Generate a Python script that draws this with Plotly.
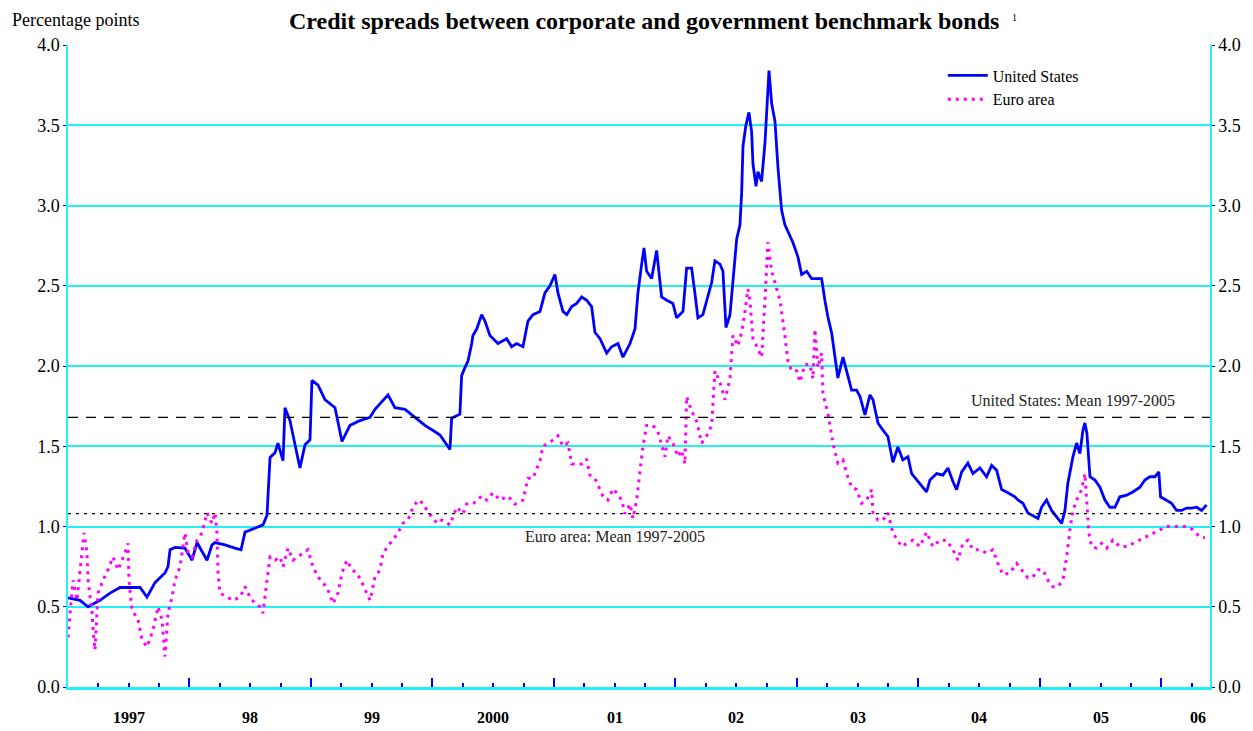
import plotly.graph_objects as go

# Spreads, percentage points; time as decimal years
us_t = [1997.000, 1997.099, 1997.165, 1997.263, 1997.346, 1997.428, 1997.510, 1997.593, 1997.650, 1997.716,
        1997.757, 1997.798, 1997.823, 1997.840, 1997.881, 1997.963, 1998.021, 1998.062, 1998.144, 1998.185,
        1998.210, 1998.292, 1998.374, 1998.424, 1998.457, 1998.539, 1998.605, 1998.638, 1998.663, 1998.704,
        1998.728, 1998.770, 1998.786, 1998.827, 1998.909, 1998.951, 1998.992, 1999.008, 1999.058, 1999.115,
        1999.198, 1999.255, 1999.321, 1999.403, 1999.486, 1999.527, 1999.634, 1999.691, 1999.774, 1999.856,
        1999.938, 2000.021, 2000.062, 2000.144, 2000.158, 2000.226, 2000.240, 2000.267, 2000.292, 2000.323,
        2000.333, 2000.364, 2000.405, 2000.432, 2000.473, 2000.539, 2000.611, 2000.652, 2000.693, 2000.745,
        2000.786, 2000.827, 2000.885, 2000.926, 2000.967, 2001.008, 2001.033, 2001.074, 2001.105, 2001.146,
        2001.187, 2001.228, 2001.269, 2001.310, 2001.337, 2001.379, 2001.434, 2001.475, 2001.527, 2001.568,
        2001.626, 2001.667, 2001.691, 2001.722, 2001.741, 2001.763, 2001.804, 2001.845, 2001.856, 2001.886,
        2001.928, 2001.979, 2002.010, 2002.062, 2002.092, 2002.133, 2002.160, 2002.185, 2002.226, 2002.267,
        2002.298, 2002.325, 2002.366, 2002.391, 2002.416, 2002.449, 2002.473, 2002.504, 2002.531, 2002.545,
        2002.556, 2002.580, 2002.605, 2002.627, 2002.638, 2002.663, 2002.679, 2002.709, 2002.737, 2002.753,
        2002.770, 2002.792, 2002.819, 2002.844, 2002.874, 2002.901, 2002.926, 2002.967, 2003.008, 2003.039,
        2003.080, 2003.121, 2003.162, 2003.203, 2003.230, 2003.255, 2003.286, 2003.313, 2003.337, 2003.379,
        2003.409, 2003.450, 2003.491, 2003.519, 2003.560, 2003.601, 2003.626, 2003.667, 2003.708, 2003.749,
        2003.790, 2003.831, 2003.872, 2003.914, 2003.944, 2003.996, 2004.067, 2004.095, 2004.150, 2004.202,
        2004.243, 2004.284, 2004.314, 2004.356, 2004.407, 2004.449, 2004.506, 2004.561, 2004.603, 2004.644,
        2004.685, 2004.737, 2004.794, 2004.819, 2004.860, 2004.901, 2004.959, 2004.984, 2005.014, 2005.055,
        2005.096, 2005.137, 2005.179, 2005.206, 2005.230, 2005.272, 2005.302, 2005.329, 2005.354, 2005.370,
        2005.387, 2005.412, 2005.453, 2005.494, 2005.535, 2005.576, 2005.617, 2005.658, 2005.714, 2005.765,
        2005.823, 2005.864, 2005.905, 2005.947, 2005.979, 2005.993, 2006.043, 2006.084, 2006.125, 2006.166,
        2006.207, 2006.249, 2006.290, 2006.331, 2006.372]
us_v = [0.555, 0.54, 0.50, 0.54, 0.585, 0.62, 0.62, 0.62, 0.56, 0.65,
        0.68, 0.71, 0.75, 0.855, 0.87, 0.865, 0.79, 0.90, 0.79, 0.885,
        0.90, 0.885, 0.865, 0.855, 0.965, 0.99, 1.01, 1.07, 1.43, 1.46,
        1.52, 1.41, 1.74, 1.66, 1.365, 1.51, 1.54, 1.91, 1.88, 1.79,
        1.74, 1.53, 1.63, 1.66, 1.68, 1.73, 1.82, 1.74, 1.73, 1.68,
        1.63, 1.59, 1.57, 1.48, 1.675, 1.70, 1.94, 1.99, 2.03, 2.14,
        2.19, 2.23, 2.32, 2.28, 2.19, 2.14, 2.17, 2.12, 2.14, 2.12,
        2.28, 2.32, 2.34, 2.455, 2.50, 2.57, 2.455, 2.34, 2.32, 2.37,
        2.39, 2.43, 2.41, 2.37, 2.21, 2.17, 2.08, 2.12, 2.14, 2.055,
        2.14, 2.23, 2.455, 2.635, 2.735, 2.59, 2.545, 2.72, 2.635, 2.43,
        2.41, 2.39, 2.30, 2.34, 2.61, 2.61, 2.455, 2.30, 2.32, 2.43,
        2.52, 2.655, 2.635, 2.59, 2.24, 2.32, 2.52, 2.79, 2.88, 3.08,
        3.37, 3.50, 3.58, 3.46, 3.26, 3.12, 3.21, 3.15, 3.39, 3.635,
        3.84, 3.635, 3.525, 3.235, 2.97, 2.88, 2.835, 2.77, 2.68, 2.57,
        2.59, 2.545, 2.545, 2.545, 2.41, 2.305, 2.205, 2.04, 1.925, 2.055,
        1.975, 1.85, 1.85, 1.81, 1.695, 1.82, 1.79, 1.645, 1.60, 1.56,
        1.40, 1.495, 1.415, 1.435, 1.33, 1.28, 1.215, 1.29, 1.33, 1.32,
        1.365, 1.28, 1.23, 1.34, 1.395, 1.33, 1.365, 1.31, 1.38, 1.35,
        1.23, 1.21, 1.185, 1.165, 1.145, 1.085, 1.06, 1.05, 1.12, 1.165,
        1.10, 1.06, 1.02, 1.10, 1.27, 1.435, 1.52, 1.455, 1.60, 1.645,
        1.58, 1.31, 1.29, 1.245, 1.165, 1.12, 1.12, 1.185, 1.195, 1.215,
        1.245, 1.29, 1.31, 1.31, 1.34, 1.185, 1.165, 1.145, 1.10, 1.10,
        1.115, 1.115, 1.12, 1.10, 1.135]

ea_t = [1997.000, 1997.016, 1997.041, 1997.074, 1997.115, 1997.132, 1997.156, 1997.165, 1997.198, 1997.206,
        1997.222, 1997.247, 1997.288, 1997.329, 1997.370, 1997.412, 1997.469, 1997.494, 1997.502, 1997.527,
        1997.576, 1997.609, 1997.650, 1997.700, 1997.741, 1997.774, 1997.798, 1997.823, 1997.856, 1997.881,
        1997.922, 1997.963, 1997.988, 1998.021, 1998.062, 1998.103, 1998.144, 1998.185, 1998.210, 1998.226,
        1998.235, 1998.251, 1998.309, 1998.358, 1998.416, 1998.457, 1998.498, 1998.539, 1998.580, 1998.605,
        1998.638, 1998.663, 1998.704, 1998.745, 1998.770, 1998.811, 1998.852, 1998.893, 1998.934, 1998.975,
        1999.016, 1999.058, 1999.099, 1999.140, 1999.181, 1999.222, 1999.255, 1999.296, 1999.337, 1999.379,
        1999.420, 1999.461, 1999.486, 1999.527, 1999.568, 1999.593, 1999.634, 1999.675, 1999.716, 1999.757,
        1999.798, 1999.840, 1999.881, 1999.922, 1999.955, 1999.996, 2000.037, 2000.078, 2000.119, 2000.144,
        2000.199, 2000.251, 2000.281, 2000.333, 2000.405, 2000.446, 2000.498, 2000.556, 2000.621, 2000.679,
        2000.745, 2000.786, 2000.827, 2000.885, 2000.909, 2000.951, 2001.008, 2001.033, 2001.074, 2001.115,
        2001.146, 2001.187, 2001.228, 2001.269, 2001.296, 2001.337, 2001.362, 2001.403, 2001.444, 2001.486,
        2001.516, 2001.557, 2001.584, 2001.626, 2001.650, 2001.681, 2001.708, 2001.733, 2001.763, 2001.815,
        2001.856, 2001.886, 2001.914, 2001.938, 2001.979, 2002.021, 2002.051, 2002.078, 2002.092, 2002.133,
        2002.174, 2002.216, 2002.257, 2002.298, 2002.325, 2002.366, 2002.407, 2002.449, 2002.473, 2002.514,
        2002.545, 2002.572, 2002.597, 2002.613, 2002.638, 2002.668, 2002.709, 2002.737, 2002.761, 2002.792,
        2002.833, 2002.860, 2002.901, 2002.926, 2002.956, 2002.998, 2003.025, 2003.066, 2003.107, 2003.132,
        2003.148, 2003.173, 2003.203, 2003.214, 2003.255, 2003.296, 2003.337, 2003.379, 2003.409, 2003.450,
        2003.491, 2003.532, 2003.574, 2003.615, 2003.626, 2003.667, 2003.708, 2003.749, 2003.790, 2003.862,
        2003.903, 2003.955, 2004.012, 2004.067, 2004.119, 2004.177, 2004.232, 2004.284, 2004.325, 2004.366,
        2004.407, 2004.449, 2004.506, 2004.561, 2004.613, 2004.654, 2004.695, 2004.753, 2004.808, 2004.849,
        2004.901, 2004.942, 2004.984, 2005.025, 2005.066, 2005.107, 2005.148, 2005.189, 2005.220, 2005.247,
        2005.272, 2005.302, 2005.343, 2005.370, 2005.384, 2005.403, 2005.425, 2005.467, 2005.508, 2005.549,
        2005.601, 2005.658, 2005.714, 2005.765, 2005.823, 2005.878, 2005.930, 2005.988, 2006.043, 2006.095,
        2006.152, 2006.207, 2006.259, 2006.317, 2006.358]
ea_v = [0.31, 0.46, 0.665, 0.54, 0.835, 0.96, 0.835, 0.665, 0.46, 0.355,
        0.23, 0.585, 0.665, 0.73, 0.81, 0.73, 0.835, 0.895, 0.665, 0.48,
        0.42, 0.295, 0.25, 0.355, 0.50, 0.42, 0.19, 0.46, 0.56, 0.665,
        0.75, 0.96, 0.835, 0.81, 0.915, 0.96, 1.085, 1.02, 1.085, 0.96,
        0.71, 0.585, 0.56, 0.54, 0.56, 0.625, 0.56, 0.52, 0.50, 0.46,
        0.665, 0.81, 0.79, 0.81, 0.75, 0.865, 0.79, 0.81, 0.835, 0.855,
        0.75, 0.685, 0.65, 0.605, 0.52, 0.585, 0.71, 0.79, 0.73, 0.71,
        0.65, 0.585, 0.54, 0.685, 0.73, 0.835, 0.875, 0.915, 0.96, 1.02,
        1.04, 1.12, 1.165, 1.145, 1.10, 1.06, 1.02, 1.04, 1.02, 1.01,
        1.12, 1.08, 1.14, 1.14, 1.19, 1.165, 1.21, 1.165, 1.19, 1.14,
        1.165, 1.30, 1.30, 1.41, 1.50, 1.52, 1.545, 1.565, 1.50, 1.52,
        1.39, 1.39, 1.39, 1.42, 1.32, 1.30, 1.255, 1.19, 1.165, 1.235,
        1.21, 1.165, 1.08, 1.14, 1.05, 1.165, 1.345, 1.50, 1.63, 1.63,
        1.59, 1.50, 1.435, 1.565, 1.52, 1.435, 1.475, 1.39, 1.81, 1.72,
        1.655, 1.52, 1.565, 1.63, 1.97, 1.90, 1.79, 1.92, 2.19, 2.125,
        2.21, 2.34, 2.48, 2.41, 2.17, 2.125, 2.055, 2.41, 2.77, 2.59,
        2.48, 2.41, 2.19, 2.03, 1.97, 1.97, 1.90, 2.01, 2.01, 1.92,
        2.23, 1.99, 2.08, 1.83, 1.705, 1.52, 1.395, 1.415, 1.33, 1.245,
        1.23, 1.145, 1.165, 1.23, 1.085, 1.04, 1.04, 1.085, 0.96, 0.875,
        0.895, 0.915, 0.875, 0.965, 0.875, 0.915, 0.915, 0.855, 0.79, 0.895,
        0.915, 0.855, 0.855, 0.835, 0.855, 0.77, 0.70, 0.71, 0.77, 0.73,
        0.68, 0.685, 0.73, 0.73, 0.665, 0.625, 0.625, 0.665, 0.81, 0.98,
        1.10, 1.165, 1.23, 1.33, 1.165, 0.96, 0.875, 0.865, 0.895, 0.865,
        0.915, 0.875, 0.875, 0.895, 0.915, 0.935, 0.96, 0.98, 1.00, 1.00,
        1.00, 1.00, 0.98, 0.935, 0.93]

us_mean = 1.68
ea_mean = 1.08

years = list(range(1997, 2007))
year_labels = ["1997", "98", "99", "2000", "01", "02", "03", "04", "05", "06"]
label_pos = [1997.5, 1998.5, 1999.5, 2000.5, 2001.5, 2002.5, 2003.5, 2004.5, 2005.5, 2006.3]

x_end = 2006.40
cyan = "#22F2F8"
serif = "Liberation Serif, Times New Roman, serif"

fig = go.Figure()
fig.add_trace(go.Scatter(x=us_t, y=us_v, mode="lines", name="United States",
                         line=dict(color="#0000FF", width=2.8)))
fig.add_trace(go.Scatter(x=ea_t, y=ea_v, mode="lines", name="Euro area",
                         line=dict(color="#FF00FF", width=3, dash="3px,5px")))
# invisible trace so the right axis is drawn
fig.add_trace(go.Scatter(x=[us_t[0]], y=[us_v[0]], yaxis="y2", showlegend=False,
                         mode="lines", line=dict(width=0), hoverinfo="skip"))

# mean lines
fig.add_shape(type="line", xref="paper", x0=0, x1=1, y0=us_mean, y1=us_mean,
              line=dict(color="black", width=1.3, dash="10px,8px"))
fig.add_shape(type="line", xref="paper", x0=0, x1=1, y0=ea_mean, y1=ea_mean,
              line=dict(color="black", width=1.3, dash="3px,5px"))

fig.add_annotation(x=2005.27, y=us_mean, yshift=17, text="United States: Mean 1997-2005",
                   showarrow=False, font=dict(family=serif, size=16, color="#222"))
fig.add_annotation(x=2001.50, y=ea_mean, yshift=-23, text="Euro area: Mean 1997-2005",
                   showarrow=False, font=dict(family=serif, size=16, color="#222"))

for pos, lab in zip(label_pos, year_labels):
    fig.add_annotation(x=pos, y=-0.048, yref="paper", text="<b>" + lab + "</b>",
                       showarrow=False, yanchor="middle",
                       font=dict(family=serif, size=16, color="black"))

fig.add_annotation(x=-0.0508, y=1.039, xref="paper", yref="paper", xanchor="left", yanchor="middle",
                   text="Percentage points", showarrow=False,
                   font=dict(family=serif, size=18, color="black"))

# footnote marker next to the title
fig.add_annotation(x=0.825, y=1.043, xref="paper", yref="paper", xanchor="left", yanchor="middle",
                   text="1", showarrow=False, font=dict(family=serif, size=10, color="black"))

fig.update_layout(
    width=1245, height=723,
    margin=dict(l=60, r=43, t=37, b=44),
    paper_bgcolor="white", plot_bgcolor="white",
    title=dict(text="<b>Credit spreads between corporate and government benchmark bonds</b>",
               x=0.511, xanchor="center", y=0.983, yanchor="middle",
               font=dict(family=serif, size=24, color="black")),
    font=dict(family=serif, size=16, color="black"),
    showlegend=True,
    legend=dict(x=0.766, y=0.979, xanchor="left", yanchor="top",
                bgcolor="rgba(0,0,0,0)", font=dict(family=serif, size=16),
                itemwidth=40, tracegroupgap=2),
    xaxis=dict(range=[1997, x_end], tickvals=years, showticklabels=False,
               ticks="inside", ticklen=9, tickwidth=1.5, tickcolor="#0000FF",
               minor=dict(ticks="inside", ticklen=4, dtick=0.25, tick0=1997,
                          tickcolor="#0000FF", tickwidth=1.5, showgrid=False),
               showgrid=False, zeroline=False,
               showline=True, linecolor=cyan, linewidth=2.5),
    yaxis=dict(range=[0, 4], dtick=0.5, tickformat=".1f",
               showgrid=True, gridcolor=cyan, gridwidth=1.5, zeroline=False,
               showline=True, linecolor=cyan, linewidth=1.5,
               ticks="outside", ticklen=3, tickcolor="#0000FF",
               tickfont=dict(family=serif, size=18)),
    yaxis2=dict(range=[0, 4], dtick=0.5, tickformat=".1f", overlaying="y", side="right",
                showgrid=False, zeroline=False, showline=True, linecolor=cyan, linewidth=1.5,
                ticks="outside", ticklen=3, tickcolor="#0000FF",
                tickfont=dict(family=serif, size=18)),
)

fig.write_html("out.html")
